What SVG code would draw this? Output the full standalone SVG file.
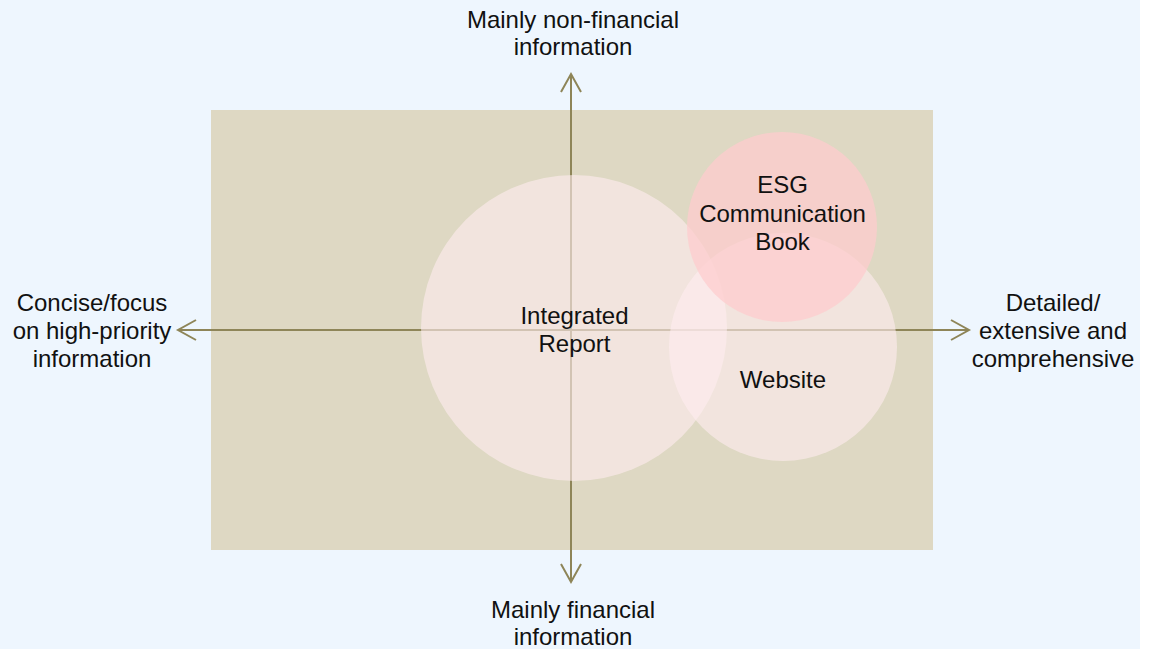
<svg xmlns="http://www.w3.org/2000/svg" width="1149" height="649" viewBox="0 0 1149 649">
  <style>
    .lbl { font-family: "Liberation Sans", Arial, sans-serif; font-size: 24px; fill: #111111; text-anchor: middle; }
    .axis { stroke: #8E8558; stroke-width: 2; fill: none; }
    .bubble { fill: #FFECF0; fill-opacity: 0.6; }
    .bubble-hot { fill: #FDCCCE; fill-opacity: 0.75; }
  </style>
  <defs>
    <marker id="chevron" markerUnits="userSpaceOnUse" markerWidth="24" markerHeight="26" viewBox="-20 -12 24 24" refX="0" refY="0" orient="auto">
      <path d="M-18,-10 L0,0 L-18,10" fill="none" stroke="#8E8558" stroke-width="2"/>
    </marker>
  </defs>

  <!-- page background -->
  <rect x="0" y="0" width="1140" height="649" fill="#EEF6FE"/>
  <!-- matrix field -->
  <rect x="211" y="110" width="722" height="440" fill="#DED8C3"/>

  <!-- axes -->
  <g id="axes">
    <line class="axis" x1="571" y1="330" x2="571" y2="74" marker-end="url(#chevron)"/>
    <line class="axis" x1="571" y1="330" x2="571" y2="582" marker-end="url(#chevron)"/>
    <line class="axis" x1="571" y1="330" x2="178" y2="330" marker-end="url(#chevron)"/>
    <line class="axis" x1="571" y1="330" x2="969" y2="330" marker-end="url(#chevron)"/>
  </g>

  <!-- media bubbles -->
  <g id="integrated-report">
    <circle class="bubble" cx="574" cy="328" r="153"/>
    <text class="lbl" x="574.5" y="324">Integrated</text>
    <text class="lbl" x="574.5" y="352">Report</text>
  </g>
  <g id="website">
    <circle class="bubble" cx="783" cy="347" r="114"/>
  </g>
  <g id="esg-book">
    <circle class="bubble-hot" cx="782" cy="227" r="95"/>
    <text class="lbl" x="782.5" y="193">ESG</text>
    <text class="lbl" x="782.5" y="222">Communication</text>
    <text class="lbl" x="782.5" y="250">Book</text>
  </g>
  <text class="lbl" x="783" y="388">Website</text>

  <!-- axis labels -->
  <g id="label-top">
    <text class="lbl" x="573" y="28">Mainly non-financial</text>
    <text class="lbl" x="573" y="55">information</text>
  </g>
  <g id="label-bottom">
    <text class="lbl" x="573" y="618">Mainly financial</text>
    <text class="lbl" x="573" y="645">information</text>
  </g>
  <g id="label-left">
    <text class="lbl" x="92" y="311">Concise/focus</text>
    <text class="lbl" x="92" y="339">on high-priority</text>
    <text class="lbl" x="92" y="367">information</text>
  </g>
  <g id="label-right">
    <text class="lbl" x="1053" y="311">Detailed/</text>
    <text class="lbl" x="1053" y="339">extensive and</text>
    <text class="lbl" x="1053" y="367">comprehensive</text>
  </g>
</svg>
